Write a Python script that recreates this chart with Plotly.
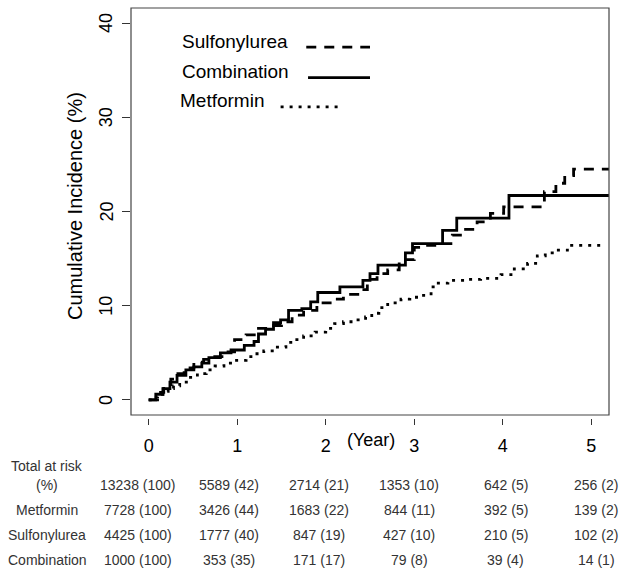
import plotly.graph_objects as go

# ---------------- data ----------------
comb_t = [0, 0.08, 0.16, 0.24, 0.32, 0.42, 0.51, 0.6, 0.68, 0.81, 0.93, 1.08, 1.19, 1.24, 1.32,
          1.41, 1.49, 1.58, 1.73, 1.83, 1.91, 2.16, 2.42, 2.5, 2.59, 2.9, 2.98, 3.32, 3.48, 4.07, 5.2]
comb_y = [0, 0.6, 1.2, 1.9, 2.6, 3.2, 3.5, 3.9, 4.5, 5.0, 5.3, 5.8, 6.2, 7.0, 7.5,
          8.2, 8.5, 9.5, 9.7, 10.4, 11.4, 12.0, 12.7, 13.4, 14.3, 15.6, 16.6, 18.0, 19.3, 21.7, 21.7]

sulf_t = [0, 0.1, 0.17, 0.25, 0.33, 0.4, 0.51, 0.62, 0.7, 0.85, 0.97, 1.1, 1.22, 1.35, 1.5, 1.62,
          1.75, 1.9, 2.05, 2.2, 2.38, 2.47, 2.58, 2.7, 2.83, 3.0, 3.12, 3.3, 3.43, 3.56, 3.71, 3.86,
          4.01, 4.47, 4.6, 4.7, 4.8, 5.2]
sulf_y = [0, 0.8, 1.4, 2.2, 2.8, 3.4, 4.0, 4.3, 4.6, 5.1, 6.4, 6.9, 7.6, 7.9, 8.3, 9.0,
          9.5, 10.3, 10.7, 11.2, 11.7, 12.8, 13.4, 13.8, 14.9, 16.2, 16.4, 16.6, 17.5, 18.1, 18.9, 19.8,
          20.5, 22.1, 23.0, 23.8, 24.5, 24.5]

metf_t = [0, 0.05, 0.1, 0.16, 0.22, 0.28, 0.35, 0.45, 0.55, 0.65, 0.75, 0.85, 0.97, 1.1, 1.2, 1.3,
          1.42, 1.55, 1.65, 1.75, 1.88, 2.0, 2.1, 2.2, 2.32, 2.45, 2.52, 2.6, 2.7, 2.85, 2.95, 3.05,
          3.19, 3.24, 3.38, 3.6, 3.75, 3.98, 4.13, 4.28, 4.39, 4.48, 4.58, 4.73, 5.12]
metf_y = [0, 0.3, 0.6, 0.9, 1.2, 1.5, 1.9, 2.4, 2.8, 3.2, 3.6, 3.9, 4.2, 4.6, 4.9, 5.2,
          5.6, 6.1, 6.4, 6.8, 7.2, 7.6, 8.1, 8.3, 8.5, 8.8, 9.2, 9.8, 10.3, 10.7, 10.9, 11.1,
          12.0, 12.4, 12.7, 12.8, 12.9, 13.3, 13.9, 14.5, 15.3, 15.6, 15.9, 16.4, 16.4]

x_ticks = [0, 1, 2, 3, 4, 5]
y_ticks = [0, 10, 20, 30, 40]

row_labels = ["Metformin", "Sulfonylurea", "Combination"]
total_risk = ["13238 (100)", "5589 (42)", "2714 (21)", "1353 (10)", "642 (5)", "256 (2)"]
metf_risk = ["7728 (100)", "3426 (44)", "1683 (22)", "844 (11)", "392 (5)", "139 (2)"]
sulf_risk = ["4425 (100)", "1777 (40)", "847 (19)", "427 (10)", "210 (5)", "102 (2)"]
comb_risk = ["1000 (100)", "353 (35)", "171 (17)", "79 (8)", "39 (4)", "14 (1)"]

legend_names = ["Sulfonylurea", "Combination", "Metformin"]

# ---------------- layout constants (pixels) ----------------
W, H = 624, 574
L, R, T, B = 131, 15, 8, 156
PW = W - L - R
PH = H - T - B          # plot-area height in px
AXIS_PY = H - B         # pixel y of the free x axis line
BOX_BOTTOM_PY = 415

def py2paper(py):
    return (AXIS_PY - py) / PH

def px2paper(px):
    return (px - L) / PW

FONT = "Liberation Sans, Arial, sans-serif"

fig = go.Figure()

styles = {
    "Sulfonylurea": dict(dash="10px,8px", width=2.8),
    "Combination": dict(dash="solid", width=2.8),
    "Metformin": dict(dash="3px,6px", width=2.8),
}

for name, t, y in [("Metformin", metf_t, metf_y), ("Sulfonylurea", sulf_t, sulf_y),
                   ("Combination", comb_t, comb_y)]:
    fig.add_trace(go.Scatter(x=t, y=y, mode="lines", name=name, line_shape="hv",
                             line=dict(color="black", **styles[name]),
                             showlegend=False, hoverinfo="skip"))

ydom0 = py2paper(BOX_BOTTOM_PY)

fig.update_layout(
    width=W, height=H,
    margin=dict(l=L, r=R, t=T, b=B, autoexpand=False),
    paper_bgcolor="white", plot_bgcolor="white",
    font=dict(family=FONT, color="black"),
    xaxis=dict(range=[-0.2, 5.2], tickvals=x_ticks, ticktext=[str(v) for v in x_ticks],
               anchor="free", position=0, showline=False, showgrid=False, zeroline=False,
               ticks="outside", ticklen=6, tickwidth=1, tickcolor="#333",
               tickfont=dict(size=18, family=FONT), ticklabelstandoff=5),
    yaxis=dict(range=[-1.6, 41.6], domain=[ydom0, 1], tickvals=y_ticks,
               showline=False, showgrid=False, zeroline=False, showticklabels=False,
               ticks="outside", ticklen=8, tickwidth=1, tickcolor="#333"),
)

# rotated y tick labels (R style, las=0)
for v in y_ticks:
    fig.add_annotation(text=str(v), xref="paper", yref="y", x=px2paper(106), y=v,
                       textangle=-90, showarrow=False, xanchor="center", yanchor="middle",
                       font=dict(size=18, family=FONT, color="black"))

# plot box
fig.add_shape(type="rect", xref="paper", yref="paper", x0=0, x1=1, y0=ydom0, y1=1,
              line=dict(color="#444", width=1.2), fillcolor="rgba(0,0,0,0)", layer="above")

# y title
fig.add_annotation(text="Cumulative Incidence (%)", xref="paper", yref="paper",
                   x=px2paper(75), y=py2paper(206), textangle=-90,
                   showarrow=False, xanchor="center", yanchor="middle",
                   font=dict(size=20, family=FONT, color="black"))

# (Year)
fig.add_annotation(text="(Year)", xref="x", yref="paper", x=2.51, y=py2paper(440),
                   showarrow=False, xanchor="center", yanchor="middle",
                   font=dict(size=18, family=FONT, color="black"))

# legend (R-style: text then line sample)
leg_text_x = [0.35, 0.35, 0.33]
leg_text_y = [38.0, 34.85, 31.8]
leg_line_x = [(1.78, 2.5), (1.80, 2.5), (1.49, 2.2)]
leg_line_y = [37.45, 34.2, 31.1]
for i, name in enumerate(legend_names):
    fig.add_annotation(text=name, xref="x", yref="y", x=leg_text_x[i], y=leg_text_y[i],
                       showarrow=False, xanchor="left", yanchor="middle",
                       font=dict(size=19, family=FONT, color="black"))
    fig.add_shape(type="line", xref="x", yref="y", x0=leg_line_x[i][0], x1=leg_line_x[i][1],
                  y0=leg_line_y[i], y1=leg_line_y[i],
                  line=dict(color="black", **styles[name]))

# risk table
TAB_COL = "#333"
label_x = px2paper(47)
fig.add_annotation(text="Total at risk", xref="paper", yref="paper", x=label_x, y=py2paper(466),
                   showarrow=False, xanchor="center", yanchor="middle",
                   font=dict(size=14, family=FONT, color=TAB_COL))
fig.add_annotation(text="(%)", xref="paper", yref="paper", x=label_x, y=py2paper(485),
                   showarrow=False, xanchor="center", yanchor="middle",
                   font=dict(size=14, family=FONT, color=TAB_COL))
row_py = [510, 535, 560]
for lab, py in zip(row_labels, row_py):
    fig.add_annotation(text=lab, xref="paper", yref="paper", x=label_x, y=py2paper(py),
                       showarrow=False, xanchor="center", yanchor="middle",
                       font=dict(size=14, family=FONT, color=TAB_COL))

col_shift = [-11, -8, -7, -5, 3, 5]
for vals, py in [(total_risk, 485), (metf_risk, 510), (sulf_risk, 535), (comb_risk, 560)]:
    for j, v in enumerate(vals):
        fig.add_annotation(text=v, xref="x", yref="paper", x=x_ticks[j], y=py2paper(py),
                           xshift=col_shift[j], showarrow=False, xanchor="center",
                           yanchor="middle", font=dict(size=14, family=FONT, color=TAB_COL))

fig.write_html("out.html", config={"displayModeBar": False},
               post_script="document.body.style.margin='0px';document.body.style.overflow='hidden';")
